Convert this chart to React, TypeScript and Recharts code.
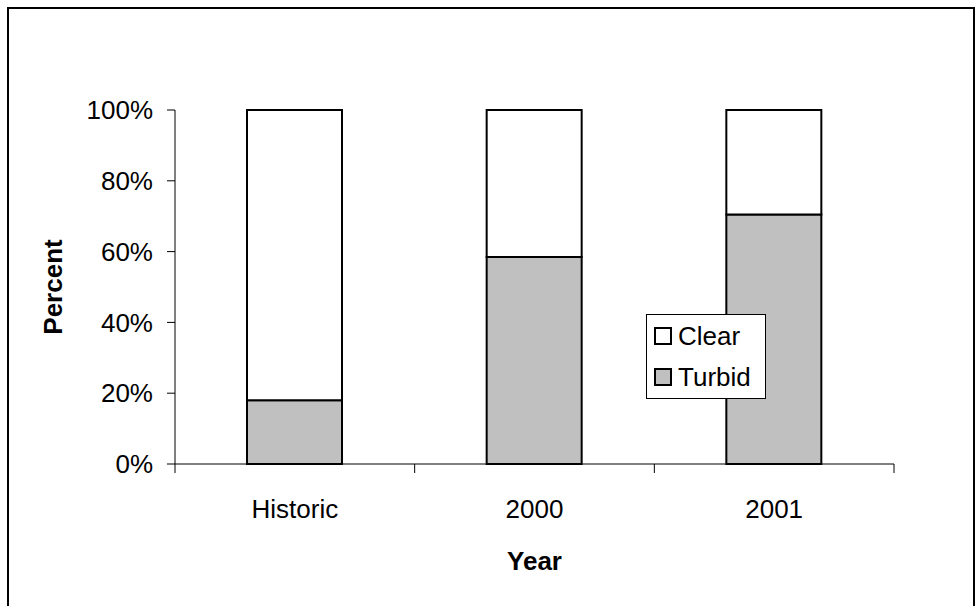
import { BarChart, Bar, XAxis, YAxis, Legend } from 'recharts';

const FONT = '"Liberation Sans", Arial, sans-serif';

const categories = ['Historic', '2000', '2001'];
const turbid = [18, 58.5, 70.5];
const clear = [82, 41.5, 29.5];
const yTicks = [0, 20, 40, 60, 80, 100];
// category boundaries (Excel draws x ticks between categories)
const boundaryTicks = [0, 1, 2, 3];

const data = categories.map((name, i) => ({
  name,
  turbid: turbid[i],
  clear: clear[i],
}));

const LEGEND_ORDER = ['Clear', 'Turbid'];
const LEGEND_FILL: Record<string, string> = { Clear: '#FFFFFF', Turbid: '#C0C0C0' };

function LegendBox() {
  return (
    <div
      style={{
        width: 120,
        height: 85,
        boxSizing: 'border-box',
        border: '1px solid #000',
        background: '#fff',
        fontFamily: FONT,
        fontSize: 26,
        color: '#000',
        paddingTop: 0,
        paddingLeft: 7,
      }}
    >
      {LEGEND_ORDER.map(name => (
        <div key={name} style={{ display: 'flex', alignItems: 'center', height: 41 }}>
          <span
            style={{
              display: 'inline-block',
              width: 18,
              height: 18,
              boxSizing: 'border-box',
              border: '2px solid #000',
              background: LEGEND_FILL[name],
              marginRight: 6,
            }}
          />
          <span style={{ lineHeight: '26px' }}>{name}</span>
        </div>
      ))}
    </div>
  );
}

export default function App() {
  return (
    <div style={{ position: 'absolute', left: 0, top: 0, width: 975, height: 606, overflow: 'hidden', background: '#fff' }}>
      <div
        style={{
          position: 'absolute',
          left: 7,
          top: 7,
          width: 968,
          height: 640,
          boxSizing: 'border-box',
          border: '2px solid #000',
        }}
      />
      <div style={{ position: 'absolute', left: 0, top: 0 }}>
        <BarChart
          width={975}
          height={606}
          data={data}
          margin={{ top: 110, right: 81, bottom: 0, left: 0 }}
        >
          <XAxis
            xAxisId="a_edges"
            type="number"
            dataKey="edge"
            domain={[0, categories.length]}
            ticks={boundaryTicks}
            interval={0}
            allowDataOverflow
            height={1}
            tickFormatter={() => ''}
            tickSize={9}
            axisLine={{ stroke: '#000' }}
            tickLine={{ stroke: '#000' }}
          />
          <XAxis
            xAxisId="b_cat"
            dataKey="name"
            height={141}
            axisLine={false}
            tickLine={false}
            tickSize={0}
            tickMargin={35}
            tick={{ fill: '#000', fontSize: 26, fontFamily: FONT }}
            label={{
              value: 'Year',
              position: 'insideBottom',
              offset: 36,
              fill: '#000',
              fontSize: 26,
              fontWeight: 'bold',
              fontFamily: FONT,
            }}
          />
          <YAxis
            width={175}
            domain={[0, 100]}
            ticks={yTicks}
            interval={0}
            tickFormatter={v => `${v}%`}
            tickSize={8}
            tickMargin={14}
            axisLine={{ stroke: '#000' }}
            tickLine={{ stroke: '#000' }}
            tick={{ fill: '#000', fontSize: 26, fontFamily: FONT }}
            label={{
              value: 'Percent',
              angle: -90,
              position: 'insideLeft',
              offset: 53,
              fill: '#000',
              fontSize: 26,
              fontWeight: 'bold',
              fontFamily: FONT,
              style: { textAnchor: 'middle' },
            }}
          />
          <Legend
            layout="vertical"
            align="center"
            verticalAlign="middle"
            content={() => <LegendBox />}
            wrapperStyle={{ position: 'absolute', left: 646, top: 314, width: 120, height: 85 }}
          />
          <Bar
            xAxisId="b_cat"
            dataKey="turbid"
            name="Turbid"
            stackId="a"
            barSize={95}
            fill="#C0C0C0"
            stroke="#000"
            strokeWidth={2}
            isAnimationActive={false}
          />
          <Bar
            xAxisId="b_cat"
            dataKey="clear"
            name="Clear"
            stackId="a"
            barSize={95}
            fill="#FFFFFF"
            stroke="#000"
            strokeWidth={2}
            isAnimationActive={false}
          />
        </BarChart>
      </div>
    </div>
  );
}
